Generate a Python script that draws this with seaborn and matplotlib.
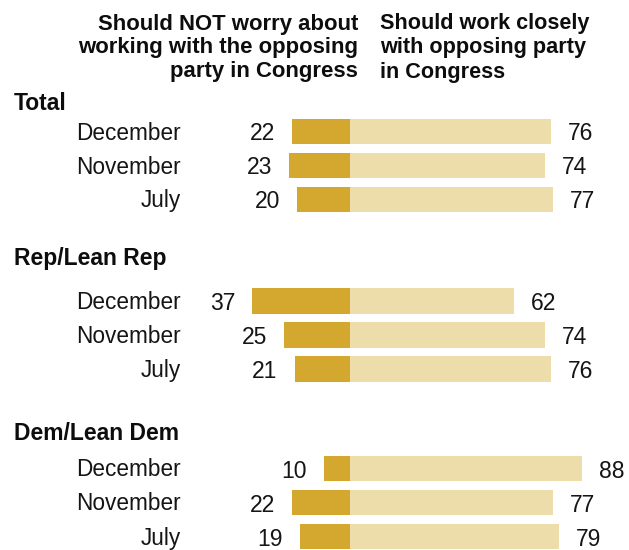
import matplotlib
matplotlib.use("Agg")
import matplotlib.pyplot as plt
import matplotlib.transforms as mtransforms
import seaborn as sns
import pandas as pd

# Survey results by group and wave
groups = ["Total", "Rep/Lean Rep", "Dem/Lean Dem"]
months = ["December", "November", "July"]
not_worry = [[22, 23, 20], [37, 25, 21], [10, 22, 19]]
work_closely = [[76, 74, 77], [62, 74, 76], [88, 77, 79]]
header_left = "Should NOT worry about\nworking with the opposing\nparty in Congress"
header_right = "Should work closely\nwith opposing party\nin Congress"

DARK = "#D4A72F"
LIGHT = "#EDDDAA"
INK = "#151515"

sns.set_theme(style="white")
plt.rcParams["font.family"] = ["Liberation Sans", "DejaVu Sans"]

W, H = 629, 550
fig = plt.figure(figsize=(W / 100, H / 100), dpi=100)
ax = fig.add_axes([0, 0, 1, 1])

# layout: vertical pixel rows for each group, bar scale in px per point
center_px = 350
px_per_unit = 2.64
group_header_y = [104, 259, 433]
group_first_row = [131.5, 301, 468.5]
row_step = 34

rows = []
for g, grp in enumerate(groups):
    for m, mon in enumerate(months):
        rows.append({
            "group": grp,
            "month": mon,
            "pos": group_first_row[g] + m * row_step,
            "left": -not_worry[g][m],
            "right": work_closely[g][m],
        })
df = pd.DataFrame(rows)

sns.barplot(data=df, x="right", y="pos", orient="h", native_scale=True,
            color=LIGHT, saturation=1, errorbar=None, width=0.74,
            linewidth=0, ax=ax)
sns.barplot(data=df, x="left", y="pos", orient="h", native_scale=True,
            color=DARK, saturation=1, errorbar=None, width=0.74,
            linewidth=0, ax=ax)

ax.set_xlim(-center_px / px_per_unit, (W - center_px) / px_per_unit)
ax.set_ylim(H, 0)
ax.axis("off")

xfig = mtransforms.blended_transform_factory(ax.transAxes, ax.transData)

for _, r in df.iterrows():
    ax.annotate(f"{-r['left']:.0f}", (r["left"], r["pos"]),
                xytext=(-17, -2.5), textcoords="offset pixels",
                ha="right", va="center", fontsize=16.5, color=INK)
    ax.annotate(f"{r['right']:.0f}", (r["right"], r["pos"]),
                xytext=(17, -2.5), textcoords="offset pixels",
                ha="left", va="center", fontsize=16.5, color=INK)
    ax.text(181 / W, r["pos"] + 1.5, r["month"], transform=xfig,
            ha="right", va="center", fontsize=16.3, color=INK)

for g, grp in enumerate(groups):
    ax.text(14 / W, group_header_y[g], grp, transform=xfig,
            ha="left", va="center", fontsize=16.5, fontweight="bold",
            color="#0d0d0d")

ax.text(358 / W, 48, header_left, transform=xfig, ha="right",
        va="center", fontsize=15.9, fontweight="bold", color="#0d0d0d",
        linespacing=1.17, multialignment="right")
ax.text(380 / W, 48, header_right, transform=xfig, ha="left",
        va="center", fontsize=15.6, fontweight="bold", color="#0d0d0d",
        linespacing=1.2, multialignment="left")

fig.savefig("out.png", dpi=100, facecolor="white")
